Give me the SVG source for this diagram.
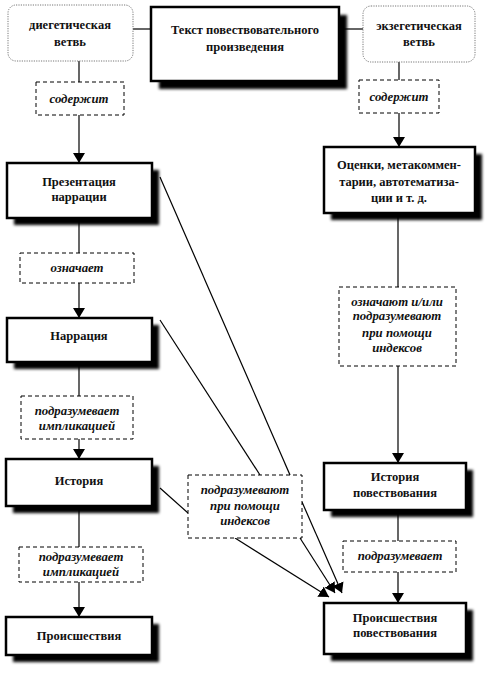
<svg xmlns="http://www.w3.org/2000/svg" width="486" height="673" viewBox="0 0 486 673">
<defs>
<filter id="sh" x="-20%" y="-20%" width="150%" height="160%">
<feGaussianBlur stdDeviation="1.8"/>
</filter>
<marker id="ar" viewBox="0 0 10 12" refX="10" refY="6" markerWidth="10" markerHeight="12" markerUnits="userSpaceOnUse" orient="auto">
<path d="M0,0 L10,6 L0,12 Z" fill="#000"/>
</marker>
</defs>
<style>
.box{fill:#fff;stroke:#000;stroke-width:2.5}
.shd{fill:#000;filter:url(#sh)}
.dot{fill:#fff;stroke:#777;stroke-width:1;stroke-dasharray:1.2,1.2}
.dash{fill:#fff;stroke:#000;stroke-width:1;stroke-dasharray:4,3}
.t{font-family:'Liberation Serif','DejaVu Serif',serif;font-weight:bold;font-size:12.5px;text-anchor:middle;fill:#111}
.i{font-family:'Liberation Serif','DejaVu Serif',serif;font-style:italic;font-weight:bold;font-size:12.8px;text-anchor:middle;fill:#111}
.ln{stroke:#000;stroke-width:1.2;fill:none}
.la{stroke:#000;stroke-width:1.2;fill:none;marker-end:url(#ar)}
</style>
<g id="connectors">
<line class="ln" x1="133" y1="29" x2="151" y2="29"/>
<line class="ln" x1="339" y1="29" x2="363" y2="29"/>
<line class="ln" x1="79" y1="61" x2="79" y2="82"/>
<line class="la" x1="79" y1="115" x2="79" y2="163"/>
<line class="ln" x1="399" y1="62" x2="399" y2="80"/>
<line class="la" x1="399" y1="113" x2="399" y2="147"/>
<line class="ln" x1="79" y1="218" x2="79" y2="253"/>
<line class="la" x1="79" y1="283" x2="79" y2="318"/>
<line class="ln" x1="79" y1="362" x2="79" y2="396"/>
<line class="la" x1="79" y1="439" x2="79" y2="459"/>
<line class="ln" x1="79" y1="506" x2="79" y2="547"/>
<line class="la" x1="79" y1="582" x2="79" y2="617"/>
<line class="ln" x1="398" y1="213" x2="398" y2="287"/>
<line class="la" x1="398" y1="366" x2="398" y2="463"/>
<line class="ln" x1="398" y1="510" x2="398" y2="541"/>
<line class="la" x1="398" y1="572" x2="398" y2="603"/>
<line class="ln" x1="160" y1="177" x2="290" y2="475"/>
<line class="ln" x1="160" y1="320" x2="260" y2="475"/>
<line class="ln" x1="160" y1="488" x2="188" y2="513"/>
<line class="la" x1="235" y1="538" x2="329" y2="597"/>
<line class="la" x1="300" y1="538" x2="335" y2="593"/>
<line class="la" x1="302" y1="502" x2="342" y2="593"/>
</g>
<g id="n-dieg">
<rect class="dot" x="8" y="5" width="125" height="56" rx="8"/>
<text class="t" x="70" y="29">диегетическая</text>
<text class="t" x="70" y="46">ветвь</text>
</g>
<g id="n-text">
<rect class="shd" x="159" y="15" width="188" height="74"/>
<rect class="box" x="151" y="7" width="188" height="74"/>
<text class="t" x="245" y="34">Текст повествовательного</text>
<text class="t" x="245" y="51">произведения</text>
</g>
<g id="n-exeg">
<rect class="dot" x="363" y="6" width="112" height="56" rx="8"/>
<text class="t" x="419" y="30">экзегетическая</text>
<text class="t" x="419" y="46">ветвь</text>
</g>
<g id="l-sod1">
<rect class="dash" x="36" y="82" width="88" height="33"/>
<text class="i" x="79" y="103">содержит</text>
</g>
<g id="l-sod2">
<rect class="dash" x="359" y="80" width="80" height="33"/>
<text class="i" x="399" y="101">содержит</text>
</g>
<g id="n-pres">
<rect class="shd" x="14" y="170" width="145" height="55"/>
<rect class="box" x="7" y="163" width="145" height="55"/>
<text class="t" x="79" y="186">Презентация</text>
<text class="t" x="79" y="201">наррации</text>
</g>
<g id="l-ozn">
<rect class="dash" x="20" y="253" width="114" height="30"/>
<text class="i" x="77" y="272">означает</text>
</g>
<g id="n-narr">
<rect class="shd" x="14" y="325" width="145" height="44"/>
<rect class="box" x="7" y="318" width="145" height="44"/>
<text class="t" x="79" y="340">Наррация</text>
</g>
<g id="l-impl1">
<rect class="dash" x="21" y="396" width="112" height="43"/>
<text class="i" x="77" y="415">подразумевает</text>
<text class="i" x="77" y="430">импликацией</text>
</g>
<g id="n-hist">
<rect class="shd" x="13" y="466" width="146" height="47"/>
<rect class="box" x="6" y="459" width="146" height="47"/>
<text class="t" x="79" y="485">История</text>
</g>
<g id="l-impl2">
<rect class="dash" x="19" y="547" width="124" height="35"/>
<text class="i" x="81" y="561">подразумевает</text>
<text class="i" x="81" y="576">импликацией</text>
</g>
<g id="n-proi">
<rect class="shd" x="13" y="624" width="146" height="38"/>
<rect class="box" x="6" y="617" width="146" height="38"/>
<text class="t" x="79" y="640">Происшествия</text>
</g>
<g id="n-ocen">
<rect class="shd" x="331" y="154" width="151" height="66"/>
<rect class="box" x="324" y="147" width="151" height="66"/>
<text class="t" x="399" y="169">Оценки, метакоммен-</text>
<text class="t" x="399" y="186">тарии, автотематиза-</text>
<text class="t" x="399" y="202">ции и  т. д.</text>
</g>
<g id="l-ozn2">
<rect class="dash" x="339" y="287" width="117" height="79"/>
<text class="i" x="397" y="306">означают и/или</text>
<text class="i" x="397" y="320">подразумевают</text>
<text class="i" x="397" y="337">при помощи</text>
<text class="i" x="397" y="352">индексов</text>
</g>
<g id="l-index">
<rect class="dash" x="188" y="475" width="114" height="63"/>
<text class="i" x="245" y="494">подразумевают</text>
<text class="i" x="245" y="510">при помощи</text>
<text class="i" x="245" y="525">индексов</text>
</g>
<g id="n-histp">
<rect class="shd" x="331" y="470" width="142" height="47"/>
<rect class="box" x="324" y="463" width="142" height="47"/>
<text class="t" x="395" y="481">История</text>
<text class="t" x="395" y="497">повествования</text>
</g>
<g id="l-podr">
<rect class="dash" x="343" y="541" width="113" height="31"/>
<text class="i" x="400" y="560">подразумевает</text>
</g>
<g id="n-proip">
<rect class="shd" x="331" y="610" width="142" height="51"/>
<rect class="box" x="324" y="603" width="142" height="51"/>
<text class="t" x="395" y="622">Происшествия</text>
<text class="t" x="395" y="637">повествования</text>
</g>
</svg>
